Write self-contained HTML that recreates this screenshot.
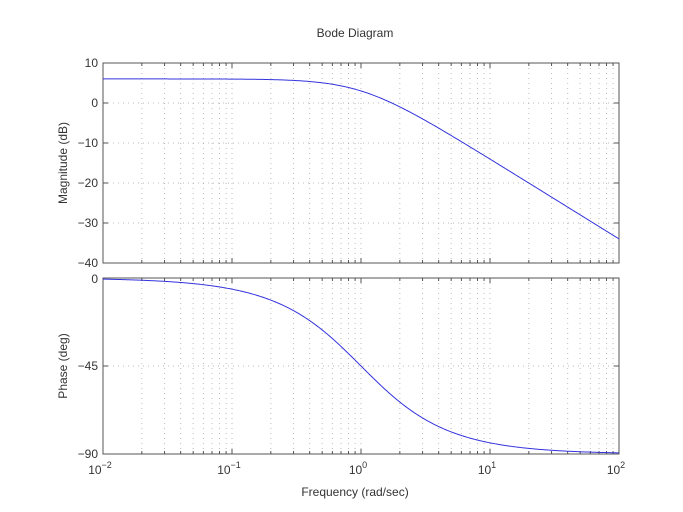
<!DOCTYPE html>
<html><head><style>body{margin:0;background:#fff}svg{display:block}text{font-family:"Liberation Sans",sans-serif;fill:#333}</style></head>
<body>
<svg id="s" width="683" height="512" xmlns="http://www.w3.org/2000/svg">
<rect width="683" height="512" fill="#fff"/>
<g id="grid" stroke="#bbb" stroke-width="1" stroke-dasharray="1,4"></g>
<g id="ticks" stroke="#555" stroke-width="1"></g>
<rect x="103" y="63" width="516" height="200" fill="none" stroke="#555"/>
<rect x="103" y="278" width="516" height="176" fill="none" stroke="#555"/>
<path id="m" fill="none" stroke="#3333dd" stroke-width="1"/>
<path id="p" fill="none" stroke="#3333dd" stroke-width="1"/>
<text x="355" y="37" font-size="12" text-anchor="middle">Bode Diagram</text>
<g font-size="12" text-anchor="end">
<text x="98" y="67">10</text><text x="98" y="107">0</text><text x="98" y="147">−10</text>
<text x="98" y="187">−20</text><text x="98" y="227">−30</text><text x="98" y="267">−40</text>
<text x="98" y="283">0</text><text x="98" y="370">−45</text><text x="98" y="458">−90</text>
</g>
<g font-size="12" text-anchor="middle">
<text x="100" y="474">10<tspan font-size="9" dy="-6">−2</tspan></text>
<text x="229" y="474">10<tspan font-size="9" dy="-6">−1</tspan></text>
<text x="358" y="474">10<tspan font-size="9" dy="-6">0</tspan></text>
<text x="487" y="474">10<tspan font-size="9" dy="-6">1</tspan></text>
<text x="616" y="474">10<tspan font-size="9" dy="-6">2</tspan></text>
<text x="355" y="496">Frequency  (rad/sec)</text>
<text transform="translate(67,163) rotate(-90)">Magnitude (dB)</text>
<text transform="translate(67,366) rotate(-90)">Phase (deg)</text>
</g>
<script>
var X=function(w){return 103+129*(Math.log10(w)+2)};
var g=document.getElementById('grid'),t=document.getElementById('ticks'),ns='http://www.w3.org/2000/svg';
function L(p,x1,y1,x2,y2){var l=document.createElementNS(ns,'line');l.setAttribute('x1',x1);l.setAttribute('y1',y1);l.setAttribute('x2',x2);l.setAttribute('y2',y2);p.appendChild(l);}
for(var d=-2;d<2;d++)for(var k=1;k<10;k++){var x=X(k*Math.pow(10,d));if(k>1||d>-2){L(g,x,63,x,263);L(g,x,278,x,454);}
var len=k==1?5:3;L(t,x,263,x,263-len);L(t,x,63,x,63+len);L(t,x,454,x,454-len);L(t,x,278,x,278+len);}
[103,143,183,223].forEach(function(y){L(g,103,y,619,y);});
[103,143,183,223].forEach(function(y){L(t,103,y,108,y);L(t,619,y,614,y);});
L(g,103,366,619,366);L(t,103,366,108,366);L(t,619,366,614,366);
var m='',p='';for(var i=0;i<=400;i++){var lw=-2+4*i/400,w=Math.pow(10,lw),x=103+129*(lw+2);
var db=20*Math.log10(2/Math.sqrt(1+w*w)),ph=-Math.atan(w)*180/Math.PI;
m+=(i?'L':'M')+x.toFixed(2)+','+(103-4*db).toFixed(2);p+=(i?'L':'M')+x.toFixed(2)+','+(278-ph*176/90).toFixed(2);}
document.getElementById('m').setAttribute('d',m);document.getElementById('p').setAttribute('d',p);
</script>
</svg>
</body></html>
